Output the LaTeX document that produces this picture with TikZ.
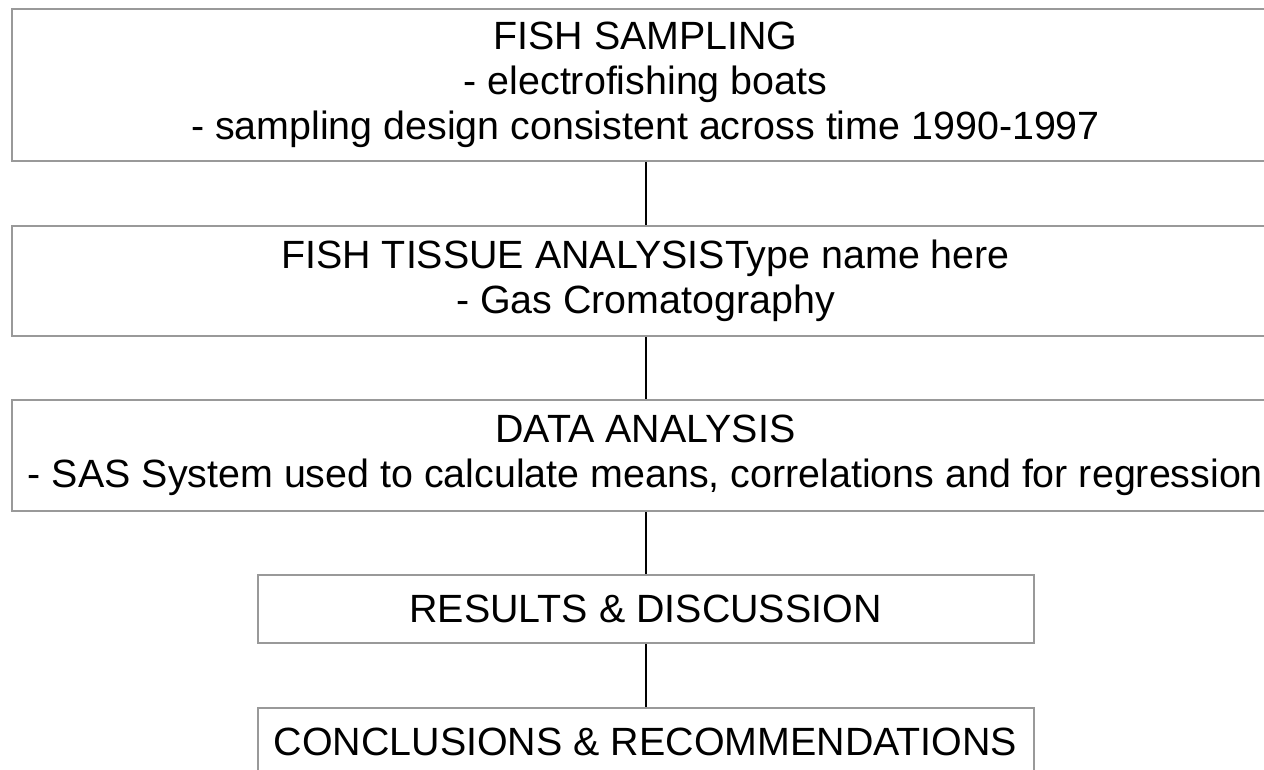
\documentclass[tikz,border=0pt]{standalone}
\usepackage{fontspec}
\setmainfont{Liberation Sans}
\definecolor{boxgray}{RGB}{153,153,153}
\begin{document}
\begin{tikzpicture}[x=1pt,y=-1pt,
  stage/.style={draw=boxgray, line width=2pt, rectangle, inner sep=0pt,
    align=center, text=black,
    font=\fontsize{39.4}{45}\selectfont},
  wide/.style={stage, minimum width=1267pt},
  narrow/.style={stage, minimum width=776pt, minimum height=68pt},
  link/.style={draw=black, line width=2pt}]
  \useasboundingbox (0,0) rectangle (1264,770);
  \clip (0,0) rectangle (1264,770);
  \fill[white] (0,0) rectangle (1264,770);

  % the five stages of the study, top to bottom
  \node[wide, minimum height=151.5pt] (sampling) at (645.5,85.25)
    {FISH SAMPLING\\- electrofishing boats\\- sampling design consistent across time 1990-1997};
  \node[wide, minimum height=110pt] (tissue) at (645.5,281)
    {FISH TISSUE ANALYSISType name here\\- Gas Cromatography};
  \node[wide, minimum height=111pt] (data) at (645.5,455.5)
    {DATA ANALYSIS\\- SAS System used to calculate means, correlations and for regression};
  \node[narrow] (results) at (645.5,609) {RESULTS \& DISCUSSION};
  \node[narrow] (concl) at (645.5,742) {CONCLUSIONS \& RECOMMENDATIONS};

  % plain connectors between consecutive stages
  \draw[link] (sampling.south) -- (tissue.north);
  \draw[link] (tissue.south) -- (data.north);
  \draw[link] (data.south) -- (results.north);
  \draw[link] (results.south) -- (concl.north);
\end{tikzpicture}
\end{document}
